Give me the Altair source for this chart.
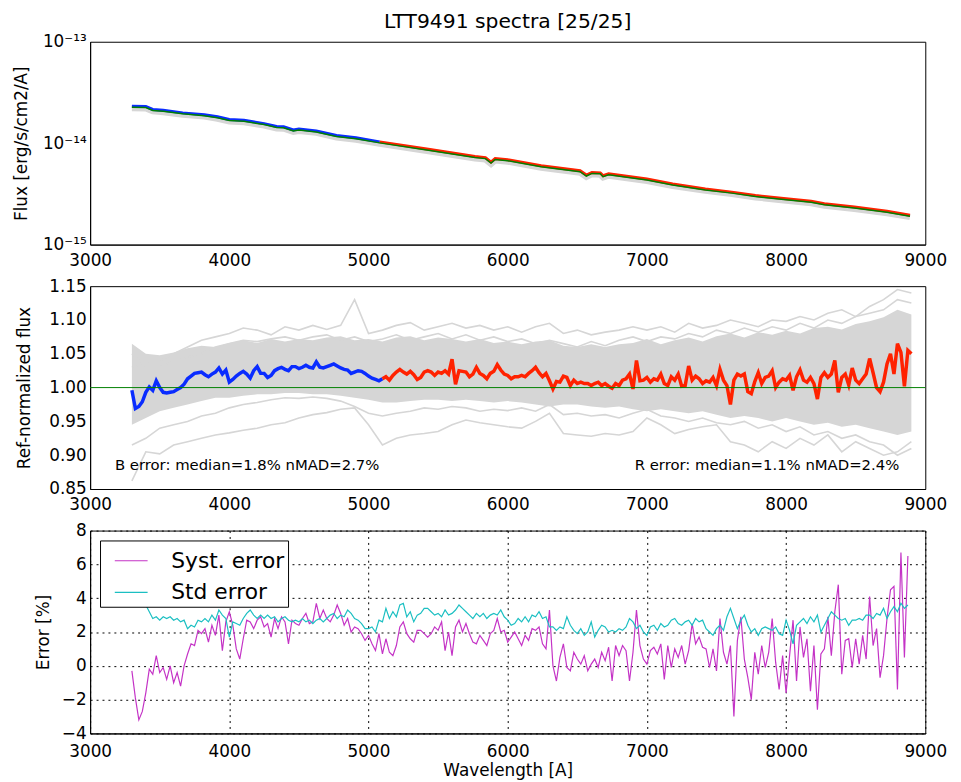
import pandas as pd
import altair as alt

# ---------------- data ----------------
XTICKS = [3000, 4000, 5000, 6000, 7000, 8000, 9000]

# Panel 1: reference flux [erg/s/cm2/A]
FLUX_WL = [3300, 3400, 3450, 3525, 3665, 3820, 3915, 4000, 4105, 4250, 4340, 4390,
           4460, 4500, 4625, 4770, 4910, 5080, 5430, 5765, 5840, 5880, 5910, 6000,
           6240, 6520, 6565, 6605, 6665, 6685, 6725, 7000, 7185, 7420, 7610, 7780,
           8000, 8180, 8275, 8490, 8725, 8890]
FLUX = [23.1e-15, 23.0e-15, 21.5e-15, 21.1e-15, 19.9e-15, 19.1e-15, 18.2e-15, 17.1e-15,
        16.8e-15, 15.6e-15, 14.6e-15, 14.5e-15, 13.5e-15, 13.8e-15, 13.2e-15, 11.9e-15,
        11.3e-15, 10.3e-15, 8.7e-15, 7.38e-15, 7.2e-15, 6.5e-15, 7.06e-15, 6.86e-15,
        5.99e-15, 5.35e-15, 4.85e-15, 5.15e-15, 5.1e-15, 4.78e-15, 5.0e-15, 4.43e-15,
        3.96e-15, 3.54e-15, 3.29e-15, 3.05e-15, 2.83e-15, 2.67e-15, 2.53e-15, 2.35e-15,
        2.13e-15, 1.95e-15]

# Panel 2: ref-normalized flux, B (25 A steps from 3300) and R (25 A steps from 5100)
B_START, R_START, STEP = 3300, 5100, 25
B_RATIO = [0.996, 0.969, 0.972, 0.979, 0.993, 1.001, 0.996, 1.010,
           1.000, 0.993, 0.992, 0.993, 0.994, 0.997, 1.000, 1.005,
           1.013, 1.017, 1.021, 1.022, 1.023, 1.019, 1.016, 1.020,
           1.023, 1.029, 1.020, 1.026, 1.008, 1.012, 1.017, 1.021,
           1.024, 1.020, 1.014, 1.025, 1.031, 1.021, 1.021, 1.015,
           1.018, 1.025, 1.028, 1.030, 1.027, 1.025, 1.031, 1.031,
           1.028, 1.030, 1.033, 1.030, 1.029, 1.038, 1.030, 1.029,
           1.031, 1.033, 1.035, 1.032, 1.029, 1.027, 1.026, 1.021,
           1.023, 1.025, 1.024, 1.021, 1.017, 1.014, 1.012, 1.010,
           1.013]
R_RATIO = [1.013, 1.016, 1.011, 1.018, 1.023, 1.027, 1.023, 1.020,
           1.024, 1.019, 1.012, 1.015, 1.023, 1.025, 1.023, 1.018,
           1.023, 1.021, 1.025, 1.020, 1.042, 1.005, 1.025, 1.024,
           1.023, 1.016, 1.020, 1.030, 1.021, 1.018, 1.013, 1.021,
           1.024, 1.034, 1.026, 1.020, 1.018, 1.013, 1.016, 1.016,
           1.018, 1.016, 1.021, 1.025, 1.030, 1.022, 1.016, 1.021,
           1.010, 0.998, 1.009, 1.008, 1.017, 1.015, 1.003, 1.011,
           1.006, 1.008, 1.006, 1.006, 1.003, 1.006, 1.008, 1.003,
           1.006, 1.002, 0.999, 1.006, 1.003, 1.011, 1.013, 1.020,
           0.998, 1.040, 1.010, 1.011, 1.015, 1.008, 1.013, 1.011,
           1.020, 1.006, 1.003, 1.016, 1.011, 1.020, 1.002, 1.003,
           1.032, 1.011, 1.017, 1.013, 1.006, 1.010, 1.008, 1.015,
           1.003, 1.027, 1.011, 1.003, 0.975, 1.011, 1.020, 1.017,
           1.020, 0.994, 0.991, 1.009, 1.022, 1.006, 1.015, 1.017,
           1.025, 1.000, 1.008, 1.013, 1.011, 1.018, 0.996, 1.016,
           1.026, 1.011, 1.008, 1.015, 1.006, 0.983, 1.015, 1.022,
           1.015, 1.020, 1.040, 0.993, 1.015, 1.020, 1.004, 1.029,
           1.011, 1.006, 1.013, 1.020, 1.043, 1.022, 1.000, 0.994,
           1.008, 1.035, 1.050, 1.020, 1.065, 1.052, 1.002, 1.055,
           1.050]

# Panel 2: grey bundle of individual spectra (100 A steps from 3300)
G_START, G_STEP = 3300, 100
GREY_LO = [0.945, 0.955, 0.965, 0.970, 0.975, 0.980, 0.985, 0.985, 0.988, 0.990,
           0.990, 0.992, 0.992, 0.990, 0.990, 0.988, 0.985, 0.982, 0.978, 0.978,
           0.980, 0.982, 0.982, 0.980, 0.982, 0.980, 0.978, 0.980, 0.978, 0.975,
           0.972, 0.975, 0.975, 0.972, 0.970, 0.972, 0.968, 0.965, 0.968, 0.965,
           0.962, 0.965, 0.960, 0.955, 0.958, 0.955, 0.950, 0.955, 0.950, 0.945,
           0.948, 0.942, 0.945, 0.940, 0.935, 0.930, 0.935]
GREY_HI = [1.065, 1.050, 1.048, 1.052, 1.058, 1.062, 1.060, 1.066, 1.070, 1.066,
           1.072, 1.068, 1.072, 1.070, 1.074, 1.076, 1.070, 1.072, 1.068, 1.074,
           1.076, 1.070, 1.074, 1.072, 1.068, 1.072, 1.066, 1.068, 1.064, 1.068,
           1.070, 1.062, 1.060, 1.064, 1.060, 1.064, 1.066, 1.072, 1.064, 1.070,
           1.074, 1.068, 1.076, 1.080, 1.074, 1.082, 1.078, 1.084, 1.080, 1.088,
           1.090, 1.086, 1.094, 1.098, 1.104, 1.115, 1.108]
GREY_1 = [1.030, 1.035, 1.040, 1.050, 1.060, 1.070, 1.075, 1.080, 1.088, 1.085,
          1.078, 1.090, 1.085, 1.092, 1.086, 1.092, 1.130, 1.080, 1.085, 1.092,
          1.096, 1.085, 1.090, 1.095, 1.088, 1.092, 1.085, 1.090, 1.082, 1.090,
          1.095, 1.080, 1.085, 1.078, 1.082, 1.085, 1.090, 1.085, 1.090, 1.082,
          1.095, 1.088, 1.092, 1.100, 1.095, 1.090, 1.100, 1.098, 1.105, 1.100,
          1.110, 1.115, 1.105, 1.120, 1.130, 1.145, 1.140]
GREY_2 = [0.862, 0.905, 0.902, 0.915, 0.920, 0.925, 0.930, 0.933, 0.937, 0.940,
          0.945, 0.948, 0.955, 0.960, 0.963, 0.968, 0.970, 0.945, 0.915, 0.925,
          0.930, 0.932, 0.935, 0.945, 0.952, 0.948, 0.945, 0.942, 0.940, 0.950,
          0.962, 0.932, 0.930, 0.928, 0.932, 0.930, 0.935, 0.955, 0.945, 0.932,
          0.938, 0.942, 0.945, 0.920, 0.915, 0.905, 0.920, 0.910, 0.925, 0.915,
          0.930, 0.905, 0.920, 0.910, 0.900, 0.905, 0.920]
GREY_3 = [0.915, 0.925, 0.940, 0.945, 0.950, 0.958, 0.962, 0.970, 0.975, 0.978,
          0.982, 0.985, 0.984, 0.986, 0.984, 0.980, 0.972, 0.962, 0.958, 0.962,
          0.965, 0.970, 0.968, 0.972, 0.970, 0.965, 0.968, 0.966, 0.970, 0.965,
          0.975, 0.960, 0.962, 0.958, 0.960, 0.955, 0.962, 0.968, 0.958, 0.955,
          0.950, 0.955, 0.948, 0.945, 0.950, 0.940, 0.945, 0.935, 0.942, 0.930,
          0.935, 0.925, 0.930, 0.920, 0.915, 0.900, 0.910]
GREY_4 = [1.050, 1.030, 1.030, 1.040, 1.045, 1.050, 1.060, 1.065, 1.070, 1.068,
          1.072, 1.075, 1.070, 1.075, 1.078, 1.070, 1.075, 1.068, 1.072, 1.078,
          1.070, 1.075, 1.080, 1.072, 1.078, 1.070, 1.075, 1.068, 1.072, 1.065,
          1.070, 1.065, 1.060, 1.068, 1.062, 1.070, 1.075, 1.068, 1.075, 1.072,
          1.080, 1.075, 1.085, 1.080, 1.088, 1.082, 1.090, 1.085, 1.095, 1.088,
          1.100, 1.095, 1.105, 1.110, 1.115, 1.130, 1.125]

B_TEXT = "B error: median=1.8% nMAD=2.7%"
R_TEXT = "R error: median=1.1% nMAD=2.4%"

# Panel 3: errors [%] (25 A steps)
SYST_START, STD_START = 3300, 3400
SYST = [-0.3, -1.9, -3.2, -2.7, -1.6, -0.2, -0.5, 0.6, -0.4, -0.1, -0.8, 0.0,
        -1.0, -0.4, -1.2, 0.0, 0.7, 1.3, 1.2, 2.1, 1.9, 2.2, 1.4, 2.4,
        1.8, 3.0, 0.9, 2.6, 3.2, 2.4, 1.0, 0.4, 1.6, 2.7, 2.6, 2.2,
        2.7, 2.9, 2.3, 2.5, 1.7, 2.8, 2.2, 2.9, 2.6, 1.3, 2.7, 2.5,
        2.4, 2.8, 3.1, 2.5, 2.6, 3.7, 2.8, 3.3, 2.8, 2.6, 3.0, 3.6,
        3.1, 2.4, 2.8, 2.0, 2.3, 2.2, 1.9, 1.5, 1.8, 1.3, 0.9, 1.9,
        0.7, 1.6, 0.8, 0.6, 1.2, 2.3, 2.6, 1.9, 1.6, 1.4, 2.1, 2.1,
        1.9, 1.7, 1.9, 2.3, 2.1, 2.6, 0.9, 2.0, 0.6, 2.3, 2.7, 2.0,
        2.5, 1.9, 1.4, 1.3, 1.8, 1.5, 1.2, 1.9, 2.1, 2.8, 2.0, 2.1,
        1.4, 1.7, 2.0, 1.6, 1.2, 1.8, 1.5, 2.2, 2.1, 2.3, 1.3, 1.0,
        3.3, 0.0, -0.9, 0.5, 1.3, -0.1, -0.3, 0.8, 0.4, 0.1, 0.6, -0.3,
        0.1, 0.4, -0.1, 0.8, 0.3, 1.1, -0.9, 1.2, 0.6, 1.2, 0.9, -0.9,
        0.8, 3.3, 1.2, 0.4, 0.1, 0.9, 1.1, 0.7, 1.3, -0.8, 1.2, -0.1,
        1.0, 0.5, 1.2, 0.1, 0.9, 2.5, 1.3, 1.7, 1.1, 1.0, -0.1, 1.0,
        -0.3, 2.8, 0.8, 0.1, 1.2, -3.0, 1.5, 2.9, 0.4, -0.7, -2.0, 0.8,
        -0.5, 1.2, -0.1, 0.8, 2.8, 0.2, -1.4, 0.6, -1.6, 0.6, 2.7, -0.9,
        2.3, 0.5, 1.6, -1.5, 1.2, -2.6, 0.7, 1.0, 2.9, 0.6, 3.2, 4.8,
        -0.5, 1.5, 1.6, -0.1, 1.6, 0.1, 1.8, 0.4, 4.1, 1.2, 2.2, -0.7,
        0.6, 2.8, 4.5, 4.7, -1.4, 6.7, 0.5, 6.5]
STD = [3.6, 3.2, 2.8, 2.9, 2.7, 2.9, 2.8, 2.9, 2.7, 2.8, 2.6, 2.7,
       2.2, 2.4, 2.3, 2.7, 2.6, 2.8, 2.6, 3.0, 2.7, 3.3, 3.0, 2.8,
       1.7, 2.6, 2.5, 2.4, 2.8, 3.1, 3.3, 3.0, 2.8, 3.0, 2.8, 3.0,
       2.8, 2.9, 2.6, 2.8, 2.9, 2.7, 2.6, 2.7, 2.6, 2.8, 2.6, 2.7,
       2.5, 2.7, 2.8, 2.6, 2.8, 3.0, 3.1, 2.8, 3.0, 2.9, 3.3, 3.1,
       2.8, 2.7, 2.5, 2.2, 2.2, 2.3, 2.0, 2.7, 2.6, 3.4, 2.8, 3.2,
       2.9, 3.6, 3.7, 2.9, 3.2, 2.6, 3.0, 3.1, 3.4, 3.4, 3.2, 3.0,
       3.1, 2.9, 3.3, 3.0, 3.1, 3.3, 3.6, 3.4, 3.2, 3.0, 2.8, 3.1,
       2.9, 3.1, 2.8, 3.0, 3.1, 3.0, 3.3, 2.9, 2.7, 2.4, 2.5, 2.8,
       2.6, 2.9, 2.6, 3.0, 2.9, 3.2, 2.8, 2.9, 2.3, 2.3, 2.1, 2.3,
       2.2, 2.9, 2.4, 2.1, 1.9, 2.2, 1.8, 2.0, 2.6, 1.7, 2.1, 2.4,
       2.3, 2.0, 2.1, 2.0, 2.2, 2.1, 2.3, 2.8, 2.6, 2.2, 2.4, 2.0,
       1.8, 2.3, 2.4, 2.1, 2.5, 2.3, 2.4, 2.7, 2.8, 2.5, 2.4, 2.6,
       2.7, 2.4, 2.8, 2.6, 2.7, 2.2, 2.0, 1.8, 2.2, 2.4, 2.1, 2.9,
       3.4, 2.8, 2.2, 2.7, 3.0, 2.4, 2.0, 2.2, 1.8, 2.2, 2.3, 2.2,
       2.1, 2.3, 1.9, 1.8, 2.7, 2.1, 1.3, 2.4, 2.6, 2.8, 2.5, 2.9,
       2.6, 3.0, 2.0, 2.4, 2.8, 3.2, 3.0, 2.8, 2.7, 2.8, 2.4, 2.7,
       2.7, 2.8, 2.7, 3.0, 3.0, 2.8, 3.1, 3.0, 3.4, 2.8, 3.2, 3.5,
       3.2, 3.7, 3.4, 3.6]

# ---------------- tables ----------------
def grid(start, step, vals):
    return [start + step * i for i in range(len(vals))]

flux_df = pd.DataFrame({"wl": FLUX_WL, "flux": FLUX})
b_df = pd.DataFrame({"wl": grid(B_START, STEP, B_RATIO), "v": B_RATIO})
r_df = pd.DataFrame({"wl": grid(R_START, STEP, R_RATIO), "v": R_RATIO})
g_wl = grid(G_START, G_STEP, GREY_LO)
band_df = pd.DataFrame({"wl": g_wl, "lo": GREY_LO, "hi": GREY_HI})
glines = []
for k, arr in enumerate([GREY_1, GREY_2, GREY_3, GREY_4]):
    glines.append(pd.DataFrame({"wl": g_wl, "v": arr, "id": k}))
glines_df = pd.concat(glines)
err_df = pd.concat([
    pd.DataFrame({"wl": grid(SYST_START, STEP, SYST), "v": SYST, "series": "Syst. error"}),
    pd.DataFrame({"wl": grid(STD_START, STEP, STD), "v": STD, "series": "Std error"}),
])

# ---------------- style ----------------
FONT = "DejaVu Sans"
W, H = 844, 205
GREY = "#d6d6d6"
BLUE = "#0a2cff"
RED = "#ff2200"
GREEN = "#008000"
MAG = "#c433c6"
CYAN = "#1bbfc2"

xscale = alt.Scale(domain=[3000, 9000], nice=False, zero=False)


def xenc(title=None, grid_on=False, pad=8):
    ax = alt.Axis(values=XTICKS, format="d", grid=grid_on, gridColor="black",
                  gridDash=[2, 4], gridOpacity=1, labelFlush=False,
                  labelOverlap=False, titlePadding=4, labelPadding=pad)
    return alt.X("wl:Q", scale=xscale, axis=ax, title=title)


# Panel 1 -------------------------------------------------------------
yax1 = alt.Axis(values=[1e-15, 1e-14, 1e-13], labelOverlap=False, labelFlush=False,
                titlePadding=12,
                labelExpr="datum.value < 5e-15 ? '10⁻¹⁵' : (datum.value < 5e-14 ? '10⁻¹⁴' : '10⁻¹³')")
yflux = alt.Y("flux:Q",
              scale=alt.Scale(type="log", domain=[1e-15, 1e-13], nice=False),
              axis=yax1, title="Flux [erg/s/cm2/A]")
base1 = alt.Chart(flux_df)
p1 = alt.layer(
    base1.mark_line(color=GREY, strokeWidth=6, yOffset=2).encode(x=xenc(), y=yflux),
    base1.transform_filter("datum.wl <= 5080").mark_line(color=BLUE, strokeWidth=3).encode(x=xenc(), y=yflux),
    base1.transform_filter("datum.wl >= 5080").mark_line(color=RED, strokeWidth=3).encode(x=xenc(), y=yflux),
    base1.mark_line(color=GREEN, strokeWidth=1.5, yOffset=1).encode(x=xenc(), y=yflux),
).properties(width=W, height=H,
             title=alt.Title("LTT9491 spectra [25/25]", fontSize=20.5, fontWeight="normal",
                             font=FONT, offset=0, anchor="middle", color="black"))

# Panel 2 -------------------------------------------------------------
yscale2 = alt.Scale(domain=[0.85, 1.15], nice=False, zero=False)
yax2 = alt.Axis(values=[0.85, 0.90, 0.95, 1.00, 1.05, 1.10, 1.15], format=".2f",
                labelOverlap=False, labelFlush=False, titlePadding=15)


def y2(field):
    return alt.Y(field, scale=yscale2, axis=yax2, title="Ref-normalized flux")


p2 = alt.layer(
    alt.Chart(band_df).mark_area(color=GREY, opacity=1).encode(
        x=xenc(), y=y2("lo:Q"), y2="hi:Q"),
    alt.Chart(glines_df).mark_line(color=GREY, strokeWidth=1.6).encode(
        x=xenc(), y=y2("v:Q"), detail="id:N"),
    alt.Chart(b_df).mark_line(color=BLUE, strokeWidth=3.5).encode(x=xenc(), y=y2("v:Q")),
    alt.Chart(r_df).mark_line(color=RED, strokeWidth=3.5).encode(x=xenc(), y=y2("v:Q")),
    alt.Chart(pd.DataFrame({"v": [1.0]})).mark_rule(color=GREEN, strokeWidth=1).encode(
        y=y2("v:Q")),
    alt.Chart(pd.DataFrame({"wl": [3178], "v": [0.886], "t": [B_TEXT]})).mark_text(
        align="left", baseline="middle", font=FONT, fontSize=15, color="black").encode(
        x=xenc(), y=y2("v:Q"), text="t:N"),
    alt.Chart(pd.DataFrame({"wl": [8813], "v": [0.886], "t": [R_TEXT]})).mark_text(
        align="right", baseline="middle", font=FONT, fontSize=15, color="black").encode(
        x=xenc(), y=y2("v:Q"), text="t:N"),
).properties(width=W, height=H)

# Panel 3 -------------------------------------------------------------
yscale3 = alt.Scale(domain=[-4, 8], nice=False, zero=False)
yax3 = alt.Axis(values=[-4, -2, 0, 2, 4, 6, 8], grid=True, gridColor="black",
                gridDash=[2, 4], gridOpacity=1, labelOverlap=False, labelFlush=False,
                titlePadding=9)
col = alt.Color("series:N",
                scale=alt.Scale(domain=["Syst. error", "Std error"], range=[MAG, CYAN]),
                legend=alt.Legend(orient="top-left", offset=10, strokeColor="black",
                                  fillColor="white", padding=3, labelFontSize=22,
                                  labelFont=FONT, labelColor="black",
                                  symbolType="stroke", symbolSize=1100,
                                  symbolStrokeWidth=1.2, symbolOffset=11,
                                  labelOffset=23, rowPadding=3, cornerRadius=0),
                title=None)
x3 = xenc("Wavelength [A]", True, pad=10)
p3 = alt.layer(
    alt.Chart(err_df).transform_filter("datum.series == 'Syst. error'").mark_line(strokeWidth=1.2).encode(
        x=x3, y=alt.Y("v:Q", scale=yscale3, axis=yax3, title="Error [%]"), color=col),
    alt.Chart(err_df).transform_filter("datum.series == 'Std error'").mark_line(strokeWidth=1.2).encode(
        x=x3, y=alt.Y("v:Q", scale=yscale3, axis=yax3, title="Error [%]"), color=col),
).properties(width=W, height=H)

chart = alt.vconcat(p1, p2, p3, spacing=7).resolve_scale(
    color="independent"
).resolve_legend(
    color="independent"
).properties(
    padding={"left": 4, "top": 0, "right": 5, "bottom": 0}
).configure_view(
    stroke="black", strokeWidth=1
).configure_axis(
    labelFont=FONT, titleFont=FONT, labelFontSize=17, titleFontSize=17,
    titleFontWeight="normal", labelColor="black", titleColor="black",
    domainColor="black", ticks=False, labelPadding=4, titlePadding=8, grid=False
)

chart.save("out.html", embed_options={"renderer": "svg", "actions": False})
